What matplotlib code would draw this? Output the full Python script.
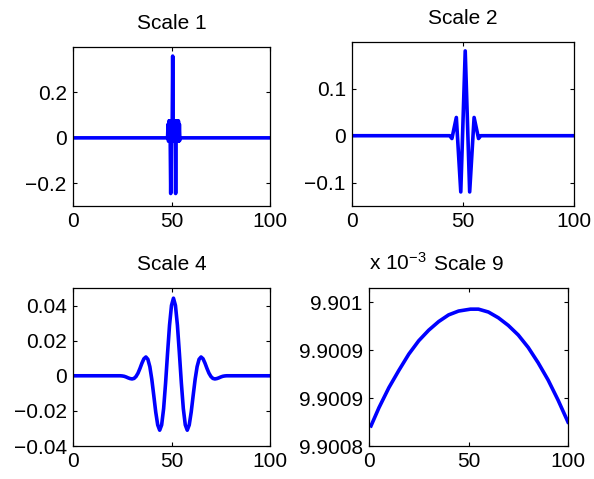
import numpy as np
import matplotlib.pyplot as plt

plt.rcParams['font.family'] = ['Liberation Sans', 'DejaVu Sans']
plt.rcParams['font.size'] = 15
plt.rcParams['mathtext.default'] = 'regular'

# scale 1 (fast oscillation around the centre)
x1 = [0, 48.0, 48.25, 48.5, 48.75, 49.0, 49.25, 49.6, 50.0, 50.3, 50.6,
      50.9, 51.2, 51.5, 51.8, 52.1, 52.4, 52.7, 53.0, 53.25, 53.5, 53.75, 54.0,
      54.25, 54.5, 100]
y1 = [0, 0, 0.06, -0.015, 0.075, -0.015, 0.075, -0.245, 0.075, -0.015, 0.36,
      -0.015, 0.075, -0.015, 0.075, -0.245, 0.075, -0.015, 0.075, -0.015, 0.075, -0.015, 0.06,
      -0.01, 0, 0]

# scale 2
x2 = [0, 44, 45, 47, 49, 51, 53, 55, 57, 58, 100]
y2 = [0, 0, -0.006, 0.039, -0.12, 0.181, -0.12, 0.039, -0.006, 0, 0]

# scale 4
x4 = [0, 24, 25, 26, 27, 28, 29, 30, 31, 32, 33, 34, 35, 36, 37, 38, 39, 40, 41, 42, 43,
      44, 45, 46, 47, 48, 49, 50, 51, 52, 53, 54, 55, 56, 57, 58, 59, 60, 61, 62, 63,
      64, 65, 66, 67, 68, 69, 70, 71, 72, 73, 74, 75, 76, 77, 78, 100]
y4 = [0, 0, -0.0001, -0.0003, -0.0007, -0.0012, -0.0016, -0.0018, -0.0015, -0.0004,
      0.0015, 0.0042, 0.0072, 0.0097, 0.0107, 0.0094, 0.0052, -0.0020, -0.0112, -0.0207,
      -0.0280, -0.0310, -0.0280, -0.0187, -0.0041, 0.0129, 0.0288, 0.0401, 0.0442,
      0.0401, 0.0288, 0.0129, -0.0041, -0.0187, -0.0280, -0.0310, -0.0280, -0.0207,
      -0.0112, -0.0020, 0.0052, 0.0094, 0.0107, 0.0097, 0.0072, 0.0042, 0.0015, -0.0004,
      -0.0015, -0.0018, -0.0016, -0.0012, -0.0007, -0.0003, -0.0001, 0, 0]

# scale 9 (values in units of 1e-3)
x9 = [1, 5, 10, 15, 20, 25, 30, 35, 40, 45, 51, 55, 60, 65, 70, 75, 80, 85, 90, 95, 100]
y9 = [9.900871, 9.900890, 9.900911, 9.900929, 9.900946, 9.900960, 9.900971, 9.900980,
      9.900987, 9.900991, 9.900993, 9.900993, 9.900990, 9.900984, 9.900976, 9.900966,
      9.900953, 9.900937, 9.900919, 9.900898, 9.900875]

titles = ['Scale 1', 'Scale 2', 'Scale 4', 'Scale 9']
xticks = [0, 50, 100]
yticks = [[-0.2, 0, 0.2], [-0.1, 0, 0.1], [-0.04, -0.02, 0, 0.02, 0.04],
          [9.90085, 9.9009, 9.90095, 9.901]]
ylabels = [['\u22120.2', '0', '0.2'], ['\u22120.1', '0', '0.1'],
           ['\u22120.04', '\u22120.02', '0', '0.02', '0.04'],
           ['9.9008', '9.9009', '9.9009', '9.901']]
ylims = [(-0.3, 0.4), (-0.15, 0.2), (-0.04, 0.05), (9.90085, 9.9010151)]

W, H = 594, 479
boxes = [(73, 270, 47, 206), (352, 574, 42, 206), (73, 270, 288, 446), (369, 568, 288, 446)]

fig = plt.figure(figsize=(W / 100, H / 100), dpi=100)
data = [(x1, y1), (x2, y2), (x4, y4), (x9, y9)]
for i, (l, r, t, b) in enumerate(boxes):
    ax = fig.add_axes([l / W, 1 - b / H, (r - l) / W, (b - t) / H])
    ax.plot(data[i][0], data[i][1], color=(0, 0, 1), lw=2.6, solid_joinstyle='round')
    ax.set_xlim(0, 100)
    ax.set_ylim(*ylims[i])
    ax.set_xticks(xticks)
    ax.set_xticklabels([str(v) for v in xticks])
    ax.set_yticks(yticks[i])
    ax.set_yticklabels(ylabels[i])
    ax.tick_params(direction='in', length=3, width=0.8, top=True, right=True, pad=4.5)
    for s in ax.spines.values():
        s.set_linewidth(0.9)
    ax.set_title(titles[i], pad=13, fontsize=15)
    if i == 3:
        ax.annotate('x 10$^{-3}$', xy=(0, 1), xycoords='axes fraction',
                    xytext=(0, 13), textcoords='offset points', ha='left', va='baseline')

fig.savefig('out.png', dpi=100)
